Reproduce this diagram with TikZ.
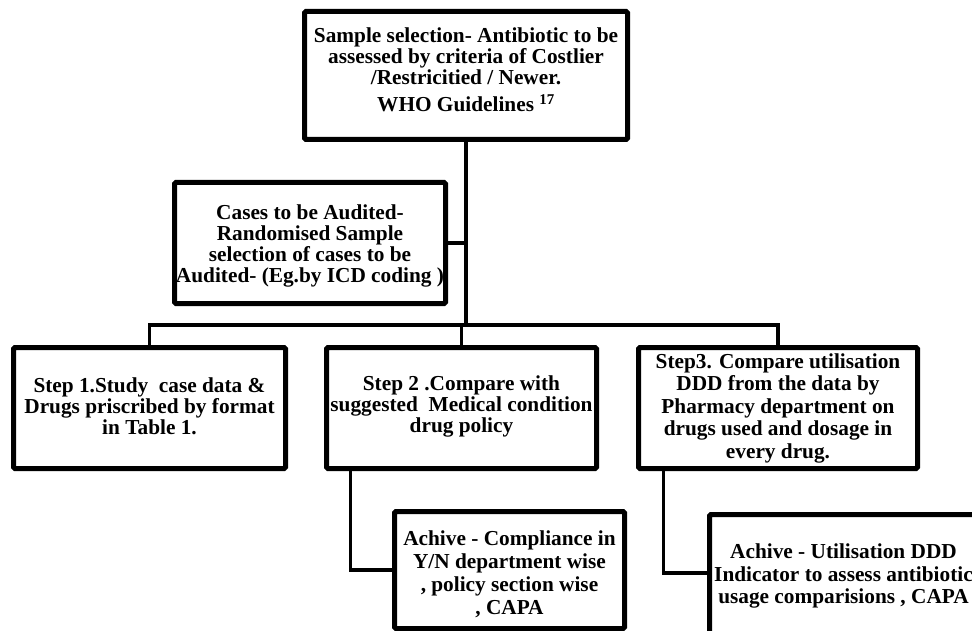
\documentclass[tikz,border=0pt]{standalone}
\usepackage{fontspec}
\setmainfont{Liberation Serif}
\usetikzlibrary{shadows}
\begin{document}
\begin{tikzpicture}[x=1pt,y=-1pt,
  box/.style={draw=black, line width=5pt, rounded corners=1.5pt, fill=white, inner sep=0pt,
    drop shadow={shadow xshift=2pt, shadow yshift=-2pt, opacity=0.25}},
  txt/.style={align=center, inner sep=0pt, font=\bfseries\fontsize{21.3}{21}\selectfont},
  conn/.style={draw=black, line width=3.3pt}]
\useasboundingbox (0,0) rectangle (972,631);
\clip (0,0) rectangle (972,631);
% boxes
\node[box, minimum width=323pt, minimum height=128pt] (top) at (466,75.5) {};
\node[box, minimum width=271pt, minimum height=121pt] (cases) at (310,243) {};
\node[box, minimum width=272pt, minimum height=121pt] (s1) at (149.5,408) {};
\node[box, minimum width=270pt, minimum height=121pt] (s2) at (461.5,408) {};
\node[box, minimum width=279pt, minimum height=121pt] (s3) at (778,408) {};
\node[box, minimum width=230pt, minimum height=117pt] (a1) at (509.5,570) {};
\node[box, minimum width=268pt, minimum height=131pt] (a2) at (843.5,580) {};
% texts
\node[txt] (ttop) at (466,70) {Sample selection- Antibiotic to be\\assessed by criteria of Costlier\\/Restricitied / Newer.\\[6pt]WHO Guidelines \textsuperscript{17}};
\node[txt] (tcases) at (310,246) {Cases to be Audited-\\Randomised Sample\\selection of cases to be\\Audited- (Eg.by ICD coding )};
\node[txt] (ts1) at (149.5,406) {Step 1.Study\ \ case data \&\\Drugs priscribed by format\\in Table 1.};
\node[txt] (ts2) at (461.5,406) {Step 2 .Compare with\\suggested\ \ Medical condition\\drug policy};
\node[txt, font=\bfseries\fontsize{21.3}{22.5}\selectfont] (ts3) at (778,408) {Step3. Compare utilisation\\DDD from the data by\\Pharmacy department on\\drugs used and dosage in\\every drug.};
\node[txt, font=\bfseries\fontsize{21.3}{23}\selectfont] (ta1) at (509.5,574) {Achive - Compliance in\\Y/N department wise\\, policy section wise\\, CAPA};
\node[txt, font=\bfseries\fontsize{21.3}{22.5}\selectfont] (ta2) at (843.5,576) {Achive - Utilisation DDD\\Indicator to assess antibiotic\\usage comparisions , CAPA};
% connectors
\coordinate (bar) at (0,325);
\draw[conn] (top.south) -- (top.south |- bar);
\draw[conn] (cases.east) -- (cases.east -| top.south);
\draw[conn] (s1.north) -- (s1.north |- bar) -- (s3.north |- bar) -- (s3.north);
\draw[conn] (s2.north) -- (s2.north |- bar);
\draw[conn] ([xshift=26.5pt]s2.south west) |- (a1.west);
\draw[conn] ([xshift=27.5pt]s3.south west) |- ([yshift=7pt]a2.west);
\end{tikzpicture}
\end{document}
